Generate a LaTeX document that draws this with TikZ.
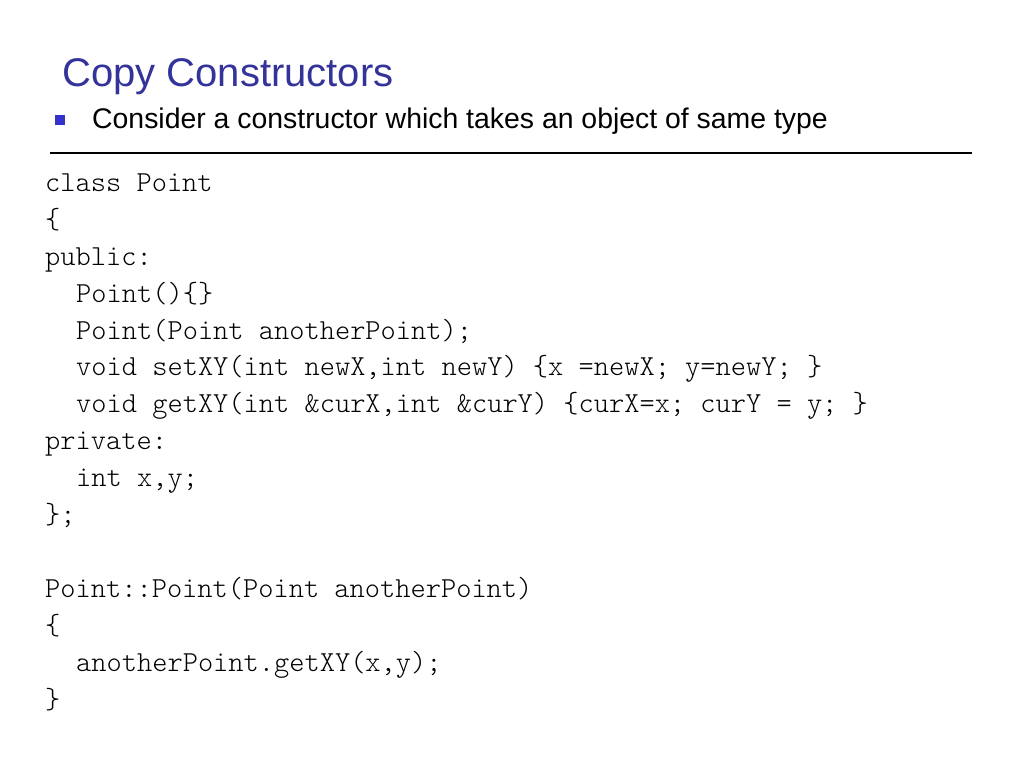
\documentclass[tikz,border=0pt]{standalone}
\usepackage{fontspec}
\setmainfont{Liberation Sans}
\definecolor{titleblue}{HTML}{333399}
\definecolor{bulletblue}{HTML}{3333CC}
\tikzset{
	title/.style={anchor=base west, inner sep=0pt, text=titleblue, font=\fontsize{40}{44}\selectfont},
	bullettext/.style={anchor=base west, inner sep=0pt, font=\fontsize{28.4}{32}\selectfont},
	code/.style={anchor=base west, inner sep=0pt, font=\ttfamily\fontseries{l}\fontsize{29}{34}\selectfont},
}
\begin{document}
\begin{tikzpicture}[x=1pt,y=-1pt]
		\useasboundingbox [fill=white] (0,0) rectangle (1024,768);
		\node [title] (title) at (62,86) {Copy Constructors};
		\fill [bulletblue] (55,115) rectangle (65,125) coordinate (bullet);
		\node [bullettext] (intro) at (92,128) {Consider a constructor which takes an object of same type};
		\draw [line width=1.5pt] (50,153) coordinate (rulel) -- (972,153) coordinate (ruler);
		% class declaration
		\node [code] (c1) at (45,191) {class Point};
		\node [code] (c2) at (45,228) {\{};
		\node [code] (c3) at (45,265) {public:};
		\node [code] (c4) at (76,302) {Point()\{\}};
		\node [code] (c5) at (76,339) {Point(Point anotherPoint);};
		\node [code] (c6) at (76,375) {void setXY(int newX,int newY) \{x =newX; y=newY; \}};
		\node [code] (c7) at (76,412) {void getXY(int \&curX,int \&curY) \{curX=x; curY = y; \}};
		\node [code] (c8) at (45,449) {private:};
		\node [code] (c9) at (76,486) {int x,y;};
		\node [code] (c10) at (45,523) {\};};
		% copy constructor
		\node [code] (d1) at (45,597) {Point::Point(Point anotherPoint)};
		\node [code] (d2) at (45,634) {\{};
		\node [code] (d3) at (76,671) {anotherPoint.getXY(x,y);};
		\node [code] (d4) at (45,708) {\}};
	\end{tikzpicture}
\end{document}
